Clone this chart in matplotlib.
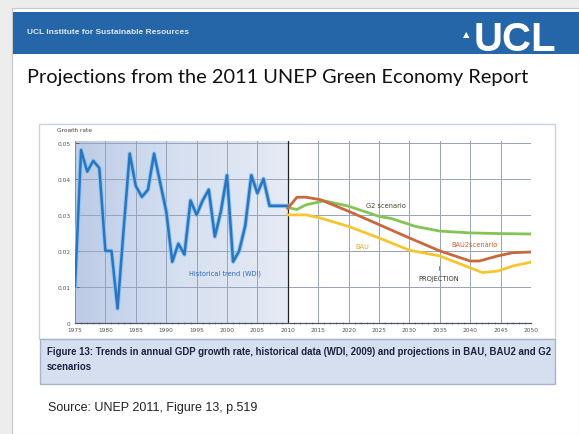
import matplotlib.pyplot as plt
import numpy as np
from matplotlib.patches import Rectangle
from matplotlib.colors import LinearSegmentedColormap

# historical GDP growth rate (WDI)
hist_years = list(range(1975, 2011))
hist_growth = [0.010, 0.048, 0.042, 0.045, 0.043, 0.020, 0.020, 0.004, 0.026, 0.047,
               0.038, 0.035, 0.037, 0.047, 0.039, 0.031, 0.017, 0.022, 0.019, 0.034,
               0.030, 0.034, 0.037, 0.024, 0.031, 0.041, 0.017, 0.020, 0.027, 0.041,
               0.036, 0.040, 0.0325, 0.0325, 0.0325, 0.0325]

# scenario projections
g2_years = [2010, 2011.5, 2013, 2016, 2020, 2025, 2027, 2031, 2035, 2040, 2045, 2050]
g2_growth = [0.032, 0.0315, 0.0328, 0.0339, 0.0324, 0.0296, 0.029, 0.0268, 0.0255, 0.025, 0.0248, 0.0247]

bau2_years = [2010, 2011.5, 2013, 2015.4, 2020, 2025, 2030, 2035, 2040, 2041.5, 2044.5, 2047, 2050]
bau2_growth = [0.0318, 0.0349, 0.0349, 0.0342, 0.031, 0.0273, 0.0236, 0.020, 0.0172, 0.0172, 0.0186, 0.0195, 0.0197]

bau_years = [2010, 2013, 2015.4, 2020, 2025, 2030, 2035, 2040, 2042, 2044.5, 2047, 2050]
bau_growth = [0.030, 0.030, 0.0291, 0.0268, 0.0236, 0.0202, 0.0186, 0.0153, 0.014, 0.0144, 0.0158, 0.0169]

x_ticks = list(range(1975, 2051, 5))
y_ticks = [0, 0.01, 0.02, 0.03, 0.04, 0.05]
y_ticklabels = ['0', '0.01', '0.02', '0.03', '0.04', '0.05']

W, H = 579, 435
fig = plt.figure(figsize=(W / 100, H / 100), dpi=100)
fig.patch.set_facecolor('#ededed')


def px_rect(x0, y0, x1, y1, **kw):
    # rectangle in pixel coordinates (top-left origin)
    fig.patches.append(Rectangle((x0 / W, 1 - y1 / H), (x1 - x0) / W, (y1 - y0) / H,
                                 transform=fig.transFigure, zorder=0, **kw))


def px_text(x, y, s, **kw):
    fig.text(x / W, 1 - y / H, s, **kw)


# slide card, header bar
px_rect(12, 9, 579, 435, facecolor='white', edgecolor='#c8c8c8', lw=0.8)
px_rect(13, 13, 579, 55, facecolor='#2466a8', edgecolor='none')
px_text(27, 33, 'UCL Institute for Sustainable Resources', fontsize=6, color='#dfe9f5',
        fontweight='bold', va='center', family='Liberation Sans')
px_text(474, 40, 'UCL', fontsize=29, color='white', fontweight='heavy', va='center',
        family='Liberation Sans')
px_text(466, 35, '\u25b2', fontsize=6, color='white', va='center', ha='center')

px_text(27, 78, 'Projections from the 2011 UNEP Green Economy Report', fontsize=14.4,
        color='#111111', va='center', family='Lato')

# figure frame and caption box
px_rect(39, 125, 555, 340, facecolor='white', edgecolor='#c9d3e2', lw=1)
px_rect(40, 340, 555, 385, facecolor='#d5dff0', edgecolor='#a7b5cb', lw=1)
px_text(47, 352, 'Figure 13: Trends in annual GDP growth rate, historical data (WDI, 2009) and projections in BAU, BAU2 and G2',
        fontsize=6.9, color='#1a2440', fontweight='bold', va='center', family='Liberation Sans')
px_text(47, 367, 'scenarios', fontsize=6.9, color='#1a2440', fontweight='bold', va='center',
        family='Liberation Sans')

px_text(48, 408, 'Source: UNEP 2011, Figure 13, p.519', fontsize=9, color='#222222',
        va='center', family='Liberation Sans')

# chart axes
ax = fig.add_axes([75 / W, 1 - 324 / H, (531 - 75) / W, (324 - 142) / H])
ax.set_zorder(5)
ax.set_xlim(1975, 2050)
ax.set_ylim(0, 0.0505)
ax.set_facecolor('white')

shade = LinearSegmentedColormap.from_list('hist', ['#bccbe6', '#d6e0f0', '#e6ebf5'])
ax.imshow(np.linspace(0, 1, 200).reshape(1, -1), extent=[1975, 2010, 0, 0.0505],
          aspect='auto', cmap=shade, zorder=0)

ax.set_xticks(x_ticks)
ax.set_xticklabels([str(y) for y in x_ticks], fontsize=4.2, color='#555555')
ax.set_xticks(range(1975, 2051), minor=True)
ax.set_yticks(y_ticks)
ax.set_yticklabels(y_ticklabels, fontsize=4.2, color='#555555')
ax.tick_params(axis='x', length=0, pad=3)
ax.tick_params(axis='x', which='minor', length=2, direction='inout', color='#6b7689', width=0.5)
ax.tick_params(axis='y', length=3, direction='in', color='#555555', width=0.6, pad=3)
ax.grid(True, which='major', color='#97a3b8', lw=0.7)
ax.set_axisbelow(True)
for side in ['top', 'right']:
    ax.spines[side].set_visible(False)
ax.spines['left'].set_color('#7d889b')
ax.spines['left'].set_linewidth(0.6)
ax.spines['bottom'].set_color('#4d5668')
ax.spines['bottom'].set_linewidth(0.9)

ax.axvline(2010, color='#222222', lw=0.9, zorder=3)

ax.plot(hist_years, hist_growth, color='#8fc6f0', lw=3.2, solid_joinstyle='round', zorder=4)
ax.plot(hist_years, hist_growth, color='#2a74c0', lw=1.8, solid_joinstyle='round', zorder=5)

ax.plot(g2_years, g2_growth, color='#84c356', lw=2.0, zorder=4)
ax.plot(bau_years, bau_growth, color='#f6c630', lw=2.0, zorder=4)
ax.plot(bau2_years, bau2_growth, color='#c9683d', lw=2.0, zorder=5)

ax.text(2026.1, 0.0328, 'G2 scenario', fontsize=4.8, color='#3a4a2a', ha='center', va='center')
ax.text(2040.7, 0.0218, 'BAU2scenario', fontsize=4.8, color='#d45a22', ha='center', va='center')
ax.text(2022.3, 0.0215, 'BAU', fontsize=4.8, color='#e9a62c', ha='center', va='center')
ax.text(2034.8, 0.0124, 'PROJECTION', fontsize=4.8, color='#333333', ha='center', va='center')
ax.plot([2034.8, 2034.8], [0.0148, 0.0158], color='#555555', lw=0.5)
ax.text(1999.6, 0.0140, 'Historical trend (WDI)', fontsize=4.8, color='#2a6ab8',
        ha='center', va='center')

px_text(57, 131, 'Growth rate', fontsize=4.2, color='#444444', va='center')

fig.savefig('out.png', dpi=100, facecolor=fig.get_facecolor())
